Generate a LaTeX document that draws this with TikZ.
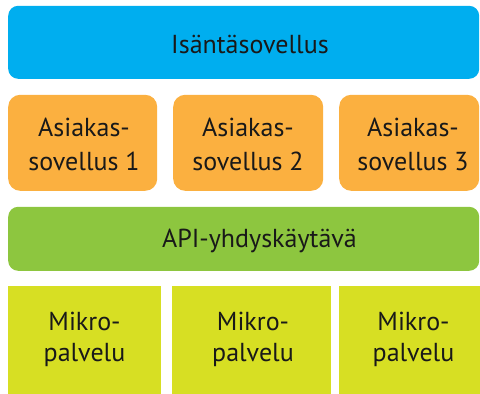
\documentclass[tikz,border=0pt]{standalone}
\usepackage{fontspec}
\setmainfont{PT Sans}
\definecolor{hostblue}{HTML}{00AEEF}
\definecolor{clientorange}{HTML}{FBB040}
\definecolor{apigreen}{HTML}{8DC63F}
\definecolor{microyellow}{HTML}{D7DF23}
\begin{document}
\begin{tikzpicture}[x=1pt,y=1pt,
  boxbase/.style={draw=none,inner sep=0pt,anchor=south west},
  lbl/.style={font=\fontsize{26}{34}\selectfont,text=black!90,align=center,inner sep=0pt},
  lblm/.style={font=\fontsize{26}{31}\selectfont,text=black!90,align=center,inner sep=0pt}]
\useasboundingbox (0,0) rectangle (480,394);
\clip (0,0) rectangle (480,394);
% host application
\node[boxbase,fill=hostblue,rounded corners=10pt,minimum width=471pt,minimum height=73pt] (host) at (8,315) {};
\node[lbl,anchor=base] (hostt) at (250,340) {Isäntäsovellus};
% client apps
\node[boxbase,fill=clientorange,rounded corners=12pt,minimum width=149pt,minimum height=96pt] (c1) at (8,203) {};
\node[boxbase,fill=clientorange,rounded corners=12pt,minimum width=150pt,minimum height=96pt] (c2) at (173,203) {};
\node[boxbase,fill=clientorange,rounded corners=12pt,minimum width=140pt,minimum height=96pt] (c3) at (339,203) {};
\node[lbl] (c1t) at (84,249.5) {Asiakas-\\sovellus 1};
\node[lbl] (c2t) at (248,249.5) {Asiakas-\\sovellus 2};
\node[lbl] (c3t) at (413,249.5) {Asiakas-\\sovellus 3};
% API gateway
\node[boxbase,fill=apigreen,rounded corners=10pt,minimum width=471pt,minimum height=64pt] (api) at (8,123) {};
\node[lbl,anchor=base] (apit) at (259.5,146) {API-yhdyskäytävä};
% microservices
\node[boxbase,fill=microyellow,minimum width=153pt,minimum height=118pt] (m1) at (8,-10) {};
\node[boxbase,fill=microyellow,minimum width=159pt,minimum height=118pt] (m2) at (172,-10) {};
\node[boxbase,fill=microyellow,minimum width=151pt,minimum height=118pt] (m3) at (339,-10) {};
\node[lblm] (m1t) at (84.5,54.5) {Mikro-\\palvelu};
\node[lblm] (m2t) at (253,54.5) {Mikro-\\palvelu};
\node[lblm] (m3t) at (413.5,54.5) {Mikro-\\palvelu};
\end{tikzpicture}
\end{document}
